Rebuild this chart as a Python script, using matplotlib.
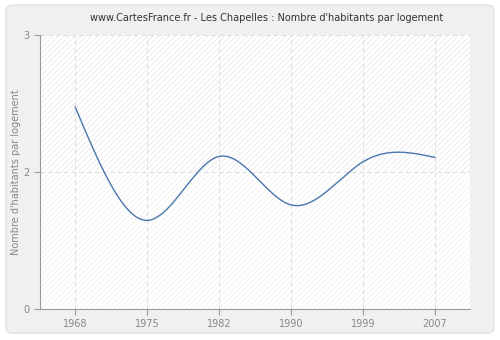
import numpy as np
import matplotlib.pyplot as plt
from matplotlib.patches import FancyBboxPatch

# donnees
annees = ['1968', '1975', '1982', '1990', '1999', '2007']
valeurs = [2.21, 0.97, 1.67, 1.14, 1.61, 1.66]
y_ticks = [0, 1.5, 3]
y_labels = ['0', '2', '3']

LINE_COLOR = '#4a76ad'
GRID_COLOR = '#dedede'
TEXT_COLOR = '#888888'


def spline_naturelle(x, y, n=400):
    # courbe lissee pour le trace (spline cubique naturelle)
    x = np.asarray(x, float)
    y = np.asarray(y, float)
    k = len(x)
    h = np.diff(x)
    A = np.zeros((k, k))
    b = np.zeros(k)
    A[0, 0] = A[-1, -1] = 1
    for i in range(1, k - 1):
        A[i, i - 1] = h[i - 1]
        A[i, i] = 2 * (h[i - 1] + h[i])
        A[i, i + 1] = h[i]
        b[i] = 6 * ((y[i + 1] - y[i]) / h[i] - (y[i] - y[i - 1]) / h[i - 1])
    m = np.linalg.solve(A, b)
    xs = np.linspace(x[0], x[-1], n)
    idx = np.clip(np.searchsorted(x, xs) - 1, 0, k - 2)
    x0, x1 = x[idx], x[idx + 1]
    hh = x1 - x0
    t0, t1 = x1 - xs, xs - x0
    ys = (m[idx] * t0 ** 3 + m[idx + 1] * t1 ** 3) / (6 * hh) \
        + (y[idx] / hh - m[idx] * hh / 6) * t0 \
        + (y[idx + 1] / hh - m[idx + 1] * hh / 6) * t1
    return xs, ys


fig = plt.figure(figsize=(5, 3.4), dpi=100)
fig.patch.set_facecolor('white')
fond = FancyBboxPatch((0.012, 0.02), 0.976, 0.965, boxstyle='round,pad=0,rounding_size=0.015',
                      transform=fig.transFigure, facecolor='#f0f0f0', edgecolor='#e2e2e2',
                      linewidth=1, zorder=-10)
fig.patches.append(fond)

ax = fig.add_axes([0.08, 0.0912, 0.86, 0.806])
ax.set_facecolor('white')

plt.rcParams['hatch.linewidth'] = 0.5
ax.axhspan(1.5, 3, facecolor='white', edgecolor='#e6e6e6', hatch='//////', linewidth=0, zorder=0)
ax.axhspan(0, 1.5, facecolor='white', edgecolor='#efefef', hatch='//////', linewidth=0, zorder=0)

pos = np.arange(len(annees))
xs, ys = spline_naturelle(pos, valeurs)
ax.plot(xs, ys, color=LINE_COLOR, linewidth=1, zorder=3)

ax.set_xlim(-0.49, 5.49)
ax.set_ylim(0, 3)
ax.set_xticks(pos)
ax.set_xticklabels(annees)
ax.set_yticks(y_ticks)
ax.set_yticklabels(y_labels)

for p in pos:
    ax.axvline(p, color=GRID_COLOR, linestyle=(0, (4, 3)), linewidth=0.8, zorder=1)
for v in y_ticks[1:]:
    ax.axhline(v, color=GRID_COLOR, linestyle=(0, (4, 3)), linewidth=0.8, zorder=1)

for s in ['top', 'right']:
    ax.spines[s].set_visible(False)
for s in ['left', 'bottom']:
    ax.spines[s].set_color('#999999')
ax.tick_params(colors='#999999', labelcolor=TEXT_COLOR, labelsize=7, length=4, width=0.8)

ax.set_ylabel("Nombre d'habitants par logement", fontsize=7, color=TEXT_COLOR, labelpad=2)
fig.text(0.534, 0.946, "www.CartesFrance.fr - Les Chapelles : Nombre d'habitants par logement",
         ha='center', va='center', fontsize=7, color='#333333')

fig.savefig('out.png', dpi=100, facecolor=fig.get_facecolor())
